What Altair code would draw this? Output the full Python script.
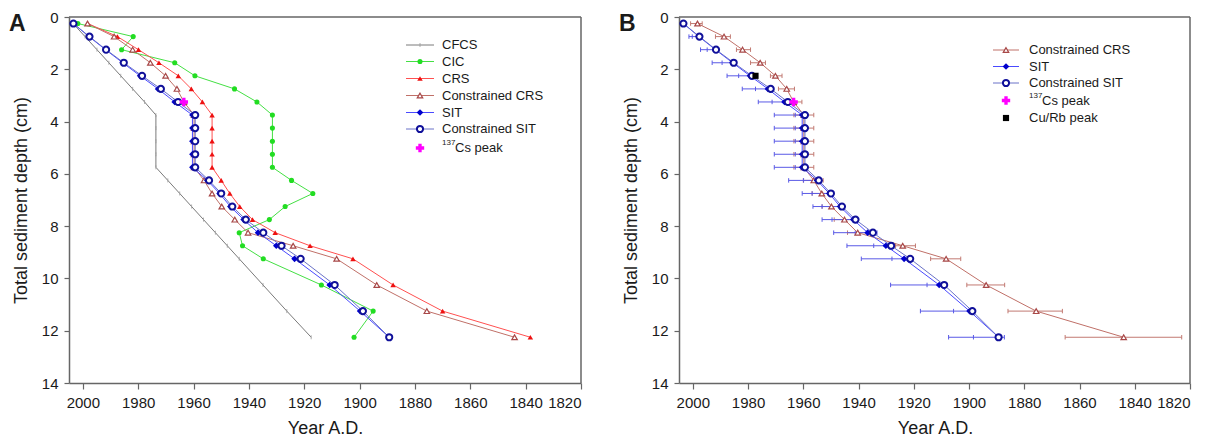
import altair as alt
import pandas as pd

# ---------------- data ----------------
depths = [0.25, 0.75, 1.25, 1.75, 2.25, 2.75, 3.25, 3.75, 4.25, 4.75, 5.25,
          5.75, 6.25, 6.75, 7.25, 7.75, 8.25, 8.75, 9.25, 10.25, 11.25, 12.25]

cfcs = [2003.5, 1999.2, 1994.9, 1990.6, 1986.3, 1982.0, 1977.7, 1973.6, 1973.6,
        1973.6, 1973.6, 1973.6, 1969.3, 1965.0, 1960.7, 1956.4, 1952.1, 1947.8,
        1943.5, 1934.9, 1926.3, 1917.5]
cic = [2001.8, 1981.8, 1986.0, 1966.8, 1959.5, 1945.2, 1937.1, 1931.5, 1931.5,
       1931.5, 1931.5, 1931.5, 1924.6, 1916.9, 1926.9, 1932.6, 1943.5, 1942.3,
       1934.8, 1913.8, 1895.1, 1902.0]
crs = [1998.2, 1987.5, 1979.9, 1972.5, 1965.5, 1960.8, 1956.8, 1953.3, 1953.3,
       1953.3, 1953.3, 1953.3, 1950.0, 1946.9, 1943.3, 1938.7, 1930.5, 1917.9,
       1902.4, 1887.9, 1870.0, 1838.3]
c_crs = [1998.3, 1988.7, 1982.0, 1975.6, 1970.1, 1966.0, 1963.5, 1959.8, 1959.8,
         1959.8, 1959.8, 1959.8, 1956.2, 1953.3, 1949.8, 1945.1, 1940.3, 1924.0,
         1908.3, 1893.8, 1875.7, 1844.0]
sit = [2003.4, 1997.8, 1991.8, 1985.6, 1979.3, 1972.8, 1966.8, 1960.4, 1960.4,
       1960.4, 1960.4, 1960.4, 1955.0, 1950.6, 1946.7, 1941.9, 1936.7, 1930.1,
       1923.5, 1910.8, 1899.8, 1889.3]
c_sit = [2003.4, 1997.6, 1991.6, 1985.2, 1978.6, 1971.8, 1965.6, 1959.4, 1959.4,
         1959.4, 1959.4, 1959.4, 1954.4, 1950.0, 1946.0, 1941.1, 1934.8, 1928.2,
         1921.3, 1909.0, 1898.8, 1889.3]

cs_peak_depth = [3.25]
cs_peak_year = [1963.5]
curb_peak_depth = [2.25]
curb_peak_year = [1977.3]

# panel B error bars
sit_err_left = [2004.0, 2001.4, 1997.2, 1993.0, 1987.6, 1982.1, 1976.3, 1970.5,
                1970.5, 1970.5, 1970.5, 1970.5, 1965.3, 1960.4, 1956.5, 1953.2,
                1949.0, 1944.2, 1939.0, 1928.4, 1917.6, 1907.4]
sit_err_inner = [2003.7, 2000.2, 1994.8, 1989.4, 1983.4, 1977.3, 1971.3, 1962.9,
                 1962.9, 1962.9, 1962.9, 1962.9, 1959.9, 1956.8, 1953.2, 1949.6,
                 1941.2, 1934.5, 1927.9, 1915.2, 1905.6, 1898.4]
sit_err_right = [2003.4, 1997.6, 1991.6, 1985.2, 1978.6, 1971.8, 1965.6, 1959.4,
                 1959.4, 1959.4, 1959.4, 1959.4, 1954.4, 1950.0, 1946.0, 1941.1,
                 1933.3, 1928.2, 1921.3, 1909.0, 1898.8, 1887.2]
crs_err_left = [2000.8, 1991.8, 1984.2, 1979.1, 1971.9, 1969.0, 1966.0, 1963.4,
                1963.4, 1963.4, 1963.4, 1963.4, 1960.0, 1956.8, 1953.2, 1948.8,
                1944.0, 1926.6, 1913.9, 1900.8, 1885.9, 1865.2]
crs_err_right = [1996.6, 1986.4, 1979.1, 1973.7, 1967.7, 1963.2, 1960.5, 1956.2,
                 1956.2, 1956.2, 1956.2, 1956.2, 1952.8, 1949.8, 1946.4, 1941.4,
                 1936.6, 1919.4, 1903.0, 1887.1, 1866.2, 1823.0]

x_ticks = [2000, 1980, 1960, 1940, 1920, 1900, 1880, 1860, 1840, 1820]
y_ticks = [0, 2, 4, 6, 8, 10, 12, 14]
x_domain = [1820, 2005]
y_domain = [0, 14]

# ---------------- styling ----------------
FONT = "Liberation Sans"
W, H = 512, 366
TICK_PATH = "M0,-1L0,1"
FRAME = "#666666"

C_CFCS = "#7a7a7a"
C_CIC_L, C_CIC_M = "#44e044", "#22dd22"
C_CRS_L, C_CRS_M = "#ff5050", "#ee1111"
C_CCRS_L, C_CCRS_M = "#c07068", "#a84848"
C_SIT_L, C_SIT_M = "#4a4aff", "#0000cc"
C_CSIT_L, C_CSIT_M = "#6a72c8", "#10109a"
C_CS = "#ff00ff"

x_axis = alt.Axis(values=x_ticks, format="d", title="Year A.D.", titleX=W / 2,
                  titleY=50, titleBaseline="alphabetic", titleAlign="center",
                  tickSize=6, labelPadding=6, grid=False)
y_axis = alt.Axis(values=y_ticks, format="d", title="Total sediment depth (cm)",
                  titleX=-43, titleY=H / 2, titleAngle=270,
                  titleBaseline="alphabetic", titleAlign="center",
                  tickSize=5, labelPadding=6, grid=False)
x_scale = alt.Scale(domain=x_domain, reverse=True, nice=False, zero=False)
y_scale = alt.Scale(domain=y_domain, reverse=True, nice=False, zero=False)


def X(field="year"):
    return alt.X(f"{field}:Q", scale=x_scale, axis=x_axis)


def Y(field="depth"):
    return alt.Y(f"{field}:Q", scale=y_scale, axis=y_axis)


def series(years, line_color, marker, ds=None):
    df = pd.DataFrame({"depth": ds if ds is not None else depths, "year": years})
    base = alt.Chart(df)
    out = []
    if line_color:
        out.append(base.mark_line(color=line_color, strokeWidth=1).encode(
            x=X(), y=Y(), order=alt.Order("depth:Q")))
    out.append(base.mark_point(opacity=1, **marker).encode(x=X(), y=Y()))
    return out


M_CFCS = dict(shape=TICK_PATH, size=16, filled=False, color="#9a9a9a", strokeWidth=0.8)
M_CIC = dict(shape="circle", size=26, filled=True, color=C_CIC_M)
M_CRS = dict(shape="triangle-up", size=30, filled=True, color=C_CRS_M)
M_CCRS = dict(shape="triangle-up", size=30, filled=True, fill="white",
              stroke=C_CCRS_M, strokeWidth=1.2)
M_SIT = dict(shape="diamond", size=44, filled=True, color=C_SIT_M)
M_CSIT = dict(shape="circle", size=38, filled=True, fill="white",
              stroke=C_CSIT_M, strokeWidth=2)
M_CS = dict(shape="cross", size=70, filled=True, color=C_CS)
M_CURB = dict(shape="square", size=38, filled=True, color="#000000")

one = pd.DataFrame({"k": [0]})


def text_layer(txt, x, y, size=13, weight="normal", align="left", baseline="middle"):
    return alt.Chart(one).mark_text(text=txt, font=FONT, fontSize=size,
                                    fontWeight=weight, align=align,
                                    baseline=baseline, color="#1a1a1a").encode(
        x=alt.value(x), y=alt.value(y))


def frame(w):
    # top and right edges of the plot box
    return [
        alt.Chart(one).mark_rule(color=FRAME, strokeWidth=1.5).encode(
            x=alt.value(0), x2=alt.value(w), y=alt.value(0)),
        alt.Chart(one).mark_rule(color=FRAME, strokeWidth=1.5).encode(
            x=alt.value(w), y=alt.value(0), y2=alt.value(H)),
    ]


def legend(entries, x1, x2, xm, xt):
    out = []
    for e in entries:
        y = e["y"]
        if e.get("line"):
            out.append(alt.Chart(one).mark_rule(color=e["line"], strokeWidth=1).encode(
                x=alt.value(x1), x2=alt.value(x2), y=alt.value(y)))
        out.append(alt.Chart(one).mark_point(opacity=1, **e["marker"]).encode(
            x=alt.value(xm), y=alt.value(y)))
        if e["label"] == "137Cs peak":
            out.append(text_layer("137", xt, y - 5, size=8))
            out.append(text_layer("Cs peak", xt + 13, y))
        else:
            out.append(text_layer(e["label"], xt, y))
    return out


# ---------------- panel A ----------------
layers_a = []
layers_a += series(cfcs, C_CFCS, M_CFCS)
layers_a += series(cic, C_CIC_L, M_CIC)
layers_a += series(crs, C_CRS_L, M_CRS)
layers_a += series(c_crs, C_CCRS_L, M_CCRS)
layers_a += series(sit, C_SIT_L, M_SIT)
layers_a += series(c_sit, C_CSIT_L, M_CSIT)
layers_a += series(cs_peak_year, None, M_CS, ds=cs_peak_depth)

leg_a = [
    dict(label="CFCS", line=C_CFCS, marker=M_CFCS, y=28),
    dict(label="CIC", line=C_CIC_L, marker=M_CIC, y=44.5),
    dict(label="CRS", line=C_CRS_L, marker=M_CRS, y=61.5),
    dict(label="Constrained CRS", line=C_CCRS_L, marker=M_CCRS, y=78.5),
    dict(label="SIT", line=C_SIT_L, marker=M_SIT, y=95.5),
    dict(label="Constrained SIT", line=C_CSIT_L, marker=M_CSIT, y=112),
    dict(label="137Cs peak", line=None, marker=M_CS, y=131),
]
layers_a += legend(leg_a, 337, 365, 351, 373)
layers_a += frame(W)
layers_a.append(text_layer("A", -60, 14, size=23, weight="bold", baseline="alphabetic"))

panel_a = alt.layer(*layers_a).properties(width=W, height=H)

# ---------------- panel B ----------------
err = pd.DataFrame({"depth": depths, "sl": sit_err_left, "si": sit_err_inner,
                    "sr": sit_err_right, "cl": crs_err_left, "cr": crs_err_right})
eb = alt.Chart(err)
C_EB_BLUE = "#5a5ae6"
C_EB_BROWN = "#c27a72"
cap_blue = dict(shape=TICK_PATH, size=20, filled=False, color=C_EB_BLUE, strokeWidth=1, opacity=1)
cap_brown = dict(shape=TICK_PATH, size=20, filled=False, color=C_EB_BROWN, strokeWidth=1, opacity=1)

layers_b = [
    eb.mark_rule(color=C_EB_BROWN, strokeWidth=1).encode(x=X("cl"), x2="cr:Q", y=Y()),
    eb.mark_point(**cap_brown).encode(x=X("cl"), y=Y()),
    eb.mark_point(**cap_brown).encode(x=X("cr"), y=Y()),
    eb.mark_rule(color=C_EB_BLUE, strokeWidth=1).encode(x=X("sl"), x2="sr:Q", y=Y()),
    eb.mark_point(**cap_blue).encode(x=X("sl"), y=Y()),
    eb.mark_point(**cap_blue).encode(x=X("si"), y=Y()),
    eb.mark_point(**cap_blue).encode(x=X("sr"), y=Y()),
]
layers_b += series(c_crs, C_CCRS_L, M_CCRS)
layers_b += series(sit, C_SIT_L, M_SIT)
layers_b += series(c_sit, C_CSIT_L, M_CSIT)
layers_b += series(curb_peak_year, None, M_CURB, ds=curb_peak_depth)
layers_b += series(cs_peak_year, None, M_CS, ds=cs_peak_depth)

leg_b = [
    dict(label="Constrained CRS", line=C_CCRS_L, marker=M_CCRS, y=33),
    dict(label="SIT", line=C_SIT_L, marker=M_SIT, y=49.5),
    dict(label="Constrained SIT", line=C_CSIT_L, marker=M_CSIT, y=66),
    dict(label="137Cs peak", line=None, marker=M_CS, y=83.5),
    dict(label="Cu/Rb peak", line=None, marker=M_CURB, y=101),
]
layers_b += legend(leg_b, 314, 340, 327, 350)
layers_b += frame(W - 1)
layers_b.append(text_layer("B", -60, 14, size=23, weight="bold", baseline="alphabetic"))

panel_b = alt.layer(*layers_b).properties(width=W - 1, height=H)

chart = alt.HConcatChart(hconcat=[panel_a, panel_b], spacing=98, bounds="flush").properties(
    padding={"left": 0, "top": 1, "right": 5, "bottom": 0},
    background="white",
).configure_view(
    stroke="transparent"
).configure_axis(
    domainColor=FRAME, domainWidth=1.5, tickColor=FRAME, tickWidth=1.2,
    labelFont=FONT, labelFontSize=15, labelColor="#1a1a1a",
    titleFont=FONT, titleFontSize=18, titleFontWeight="normal", titleColor="#1a1a1a",
)

chart.save("out.html", embed_options={"renderer": "svg", "actions": False})
